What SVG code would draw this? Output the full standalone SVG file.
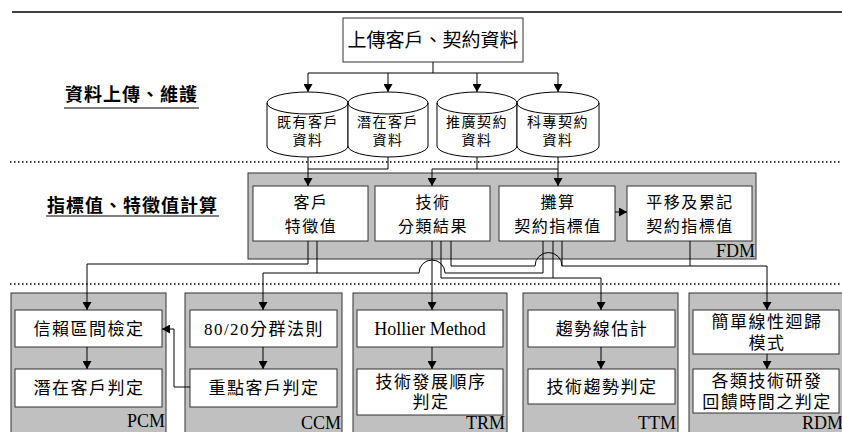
<svg xmlns="http://www.w3.org/2000/svg" width="842" height="432" viewBox="0 0 842 432">
<defs>
<marker id="ah" markerUnits="userSpaceOnUse" markerWidth="9" markerHeight="9" refX="8" refY="4.5" orient="auto">
<path d="M0,0 L8,4.5 L0,9 z" fill="#000"/>
</marker>
<style>
.t{font-family:"Liberation Serif","Noto Sans CJK TC",serif;fill:#000;text-anchor:middle;dominant-baseline:central}
.c{font-size:14px;letter-spacing:1.5px}
.f{font-size:16px;letter-spacing:1.5px}
.b{font-size:17px;letter-spacing:1.5px}
.lab{font-family:"Liberation Serif",serif;font-size:18px;text-anchor:end;fill:#000}
.h{font-family:"Noto Sans CJK TC",sans-serif;font-size:18px;font-weight:bold;letter-spacing:1px;fill:#000}
.box{fill:#fff;stroke:#333;stroke-width:1}
.mod{fill:#c0c0c0;stroke:#333;stroke-width:1}
.cyl{fill:#fff;stroke:#000;stroke-width:1}
.ln{fill:none;stroke:#000;stroke-width:1}
.dot{stroke:#000;stroke-width:1.5;stroke-dasharray:1.5 2.5}
</style>
</defs>
<rect width="842" height="432" fill="#fff"/>
<line x1="12" y1="12" x2="842" y2="12" stroke="#000" stroke-width="1.5"/>
<line class="dot" x1="10" y1="162" x2="842" y2="162"/>
<line class="dot" x1="10" y1="284" x2="842" y2="284"/>

<g id="label-upload">
<text class="h" x="65" y="101">資料上傳、維護</text>
<line x1="64" y1="108" x2="199" y2="108" stroke="#000" stroke-width="1.2"/>
</g>
<g id="label-calc">
<text class="h" x="47" y="212">指標值、特徵值計算</text>
<line x1="46" y1="216" x2="219" y2="216" stroke="#000" stroke-width="1.2"/>
</g>

<g id="upload">
<rect class="box" x="343" y="18" width="180" height="44"/>
<text class="t" x="433" y="40" font-size="19">上傳客戶、契約資料</text>
</g>

<g id="cyl-existing">
<path class="cyl" d="M267,103 A40.5,11 0 0 1 348,103 L348,146 A40.5,11 0 0 1 267,146 Z M267,103 A40.5,11 0 0 0 348,103"/>
<text class="t c" x="308" y="122">既有客戶</text>
<text class="t c" x="308" y="140">資料</text>
</g>
<g id="cyl-potential">
<path class="cyl" d="M348,103 A40,11 0 0 1 428,103 L428,146 A40,11 0 0 1 348,146 Z M348,103 A40,11 0 0 0 428,103"/>
<text class="t c" x="388" y="122">潛在客戶</text>
<text class="t c" x="388" y="140">資料</text>
</g>
<g id="cyl-promo">
<path class="cyl" d="M437,103 A40,11 0 0 1 517,103 L517,146 A40,11 0 0 1 437,146 Z M437,103 A40,11 0 0 0 517,103"/>
<text class="t c" x="477" y="122">推廣契約</text>
<text class="t c" x="477" y="140">資料</text>
</g>
<g id="cyl-project">
<path class="cyl" d="M517,103 A41,11 0 0 1 599,103 L599,146 A41,11 0 0 1 517,146 Z M517,103 A41,11 0 0 0 599,103"/>
<text class="t c" x="558" y="122">科專契約</text>
<text class="t c" x="558" y="140">資料</text>
</g>

<g id="FDM">
<rect class="mod" x="248" y="173" width="508" height="86"/>
<text class="lab" x="755" y="257">FDM</text>
</g>
<g id="cust-feature">
<rect class="box" x="253" y="186" width="115" height="55"/>
<text class="t f" x="311" y="202">客戶</text>
<text class="t f" x="311" y="226">特徵值</text>
</g>
<g id="tech-class">
<rect class="box" x="375" y="186" width="115" height="55"/>
<text class="t f" x="433" y="202">技術</text>
<text class="t f" x="433" y="226">分類結果</text>
</g>
<g id="amortize">
<rect class="box" x="499" y="186" width="116" height="55"/>
<text class="t f" x="558" y="202">攤算</text>
<text class="t f" x="558" y="226">契約指標值</text>
</g>
<g id="shift">
<rect class="box" x="627" y="186" width="125" height="55"/>
<text class="t f" x="690" y="202">平移及累記</text>
<text class="t f" x="690" y="226">契約指標值</text>
</g>

<g id="PCM">
<rect class="mod" x="11" y="293" width="155" height="147"/>
<text class="lab" x="165" y="427">PCM</text>
</g>
<g id="pcm-ci">
<rect class="box" x="15" y="310" width="147" height="37"/>
<text class="t b" x="89" y="329">信賴區間檢定</text>
</g>
<g id="pcm-judge">
<rect class="box" x="15" y="369" width="147" height="38"/>
<text class="t b" x="89" y="388">潛在客戶判定</text>
</g>

<g id="CCM">
<rect class="mod" x="185" y="293" width="157" height="147"/>
<text class="lab" x="341" y="429">CCM</text>
</g>
<g id="ccm-8020">
<rect class="box" x="190" y="310" width="147" height="37"/>
<text class="t b" x="264" y="329">80/20分群法則</text>
</g>
<g id="ccm-key">
<rect class="box" x="190" y="369" width="147" height="38"/>
<text class="t b" x="264" y="388">重點客戶判定</text>
</g>

<g id="TRM">
<rect class="mod" x="353" y="293" width="154" height="147"/>
<text class="lab" x="505" y="429">TRM</text>
</g>
<g id="trm-hollier">
<rect class="box" x="357" y="310" width="146" height="37"/>
<text class="t" x="430" y="329" font-size="18">Hollier Method</text>
</g>
<g id="trm-order">
<rect class="box" x="357" y="369" width="146" height="46"/>
<text class="t b" x="431" y="382">技術發展順序</text>
<text class="t b" x="431" y="402">判定</text>
</g>

<g id="TTM">
<rect class="mod" x="523" y="293" width="155" height="147"/>
<text class="lab" x="676" y="429">TTM</text>
</g>
<g id="ttm-trend">
<rect class="box" x="528" y="310" width="147" height="37"/>
<text class="t b" x="602" y="329">趨勢線估計</text>
</g>
<g id="ttm-judge">
<rect class="box" x="528" y="369" width="147" height="35"/>
<text class="t b" x="602" y="387">技術趨勢判定</text>
</g>

<g id="RDM">
<rect class="mod" x="689" y="293" width="160" height="147"/>
<text class="lab" x="843" y="429">RDM</text>
</g>
<g id="rdm-reg">
<rect class="box" x="693" y="310" width="146" height="44"/>
<text class="t b" x="767" y="322">簡單線性迴歸</text>
<text class="t b" x="767" y="343">模式</text>
</g>
<g id="rdm-feedback">
<rect class="box" x="693" y="369" width="146" height="44"/>
<text class="t b" x="767" y="381">各類技術研發</text>
<text class="t b" x="767" y="402">回饋時間之判定</text>
</g>

<g id="connectors" class="ln">
<path d="M433,62 V73"/>
<path d="M308,73 H558"/>
<path d="M308,73 V92" marker-end="url(#ah)"/>
<path d="M388,73 V92" marker-end="url(#ah)"/>
<path d="M477,73 V92" marker-end="url(#ah)"/>
<path d="M558,73 V92" marker-end="url(#ah)"/>
<path d="M308,157 V186" marker-end="url(#ah)"/>
<path d="M388,157 V169 H308"/>
<path d="M477,157 V169"/>
<path d="M432,169 H558"/>
<path d="M432,169 V186" marker-end="url(#ah)"/>
<path d="M558,157 V186" marker-end="url(#ah)"/>
<path d="M615,212 H627" marker-end="url(#ah)"/>
<path d="M308,241 V264 H87 V310" marker-end="url(#ah)"/>
<path d="M317,241 V273"/>
<path d="M543,241 V273 H445 A13,13 0 0 0 419,273 H263 V310" marker-end="url(#ah)"/>
<path d="M432,241 V310" marker-end="url(#ah)"/>
<path d="M441,241 V278 H601 V310" marker-end="url(#ah)"/>
<path d="M553,241 V278"/>
<path d="M451,241 V266 H535 A13.5,13.5 0 0 1 562,266 H767 V310" marker-end="url(#ah)"/>
<path d="M562,241 V266"/>
<path d="M690,241 V266"/>
<path d="M87,347 V369" marker-end="url(#ah)"/>
<path d="M263,347 V369" marker-end="url(#ah)"/>
<path d="M432,347 V369" marker-end="url(#ah)"/>
<path d="M601,347 V369" marker-end="url(#ah)"/>
<path d="M767,354 V369" marker-end="url(#ah)"/>
<path d="M190,387 H174 V329 H162" marker-end="url(#ah)"/>
</g>
</svg>
